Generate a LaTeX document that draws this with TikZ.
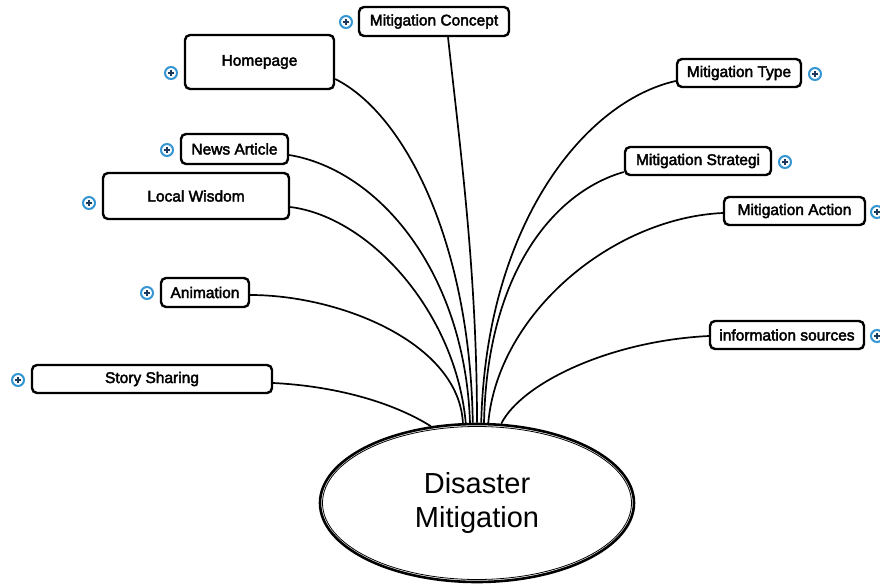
\documentclass[tikz,border=0pt]{standalone}
\usepackage{fontspec}
\setmainfont{Liberation Sans}
\newfontfamily\labelfont[FakeBold=2.6]{Liberation Sans}
\usetikzlibrary{shapes.geometric}
\definecolor{iconblue}{RGB}{52,150,210}
\definecolor{icondark}{RGB}{28,58,92}
\begin{document}
\begin{tikzpicture}[x=1pt,y=-1pt,
  topic/.style={draw=black,line width=2.4pt,rounded corners=5pt,fill=white,
    inner sep=0pt,font=\labelfont\fontsize{15.5}{18}\selectfont},
  link/.style={draw=black,line width=1.7pt},
  plusicon/.style={circle,draw=iconblue,line width=2pt,fill=white,
    minimum size=12pt,inner sep=0pt,
    path picture={
      \draw[icondark,line width=1.2pt]
        ([xshift=-2.6pt]path picture bounding box.center) --
        ([xshift=2.6pt]path picture bounding box.center)
        ([yshift=-2.6pt]path picture bounding box.center) --
        ([yshift=2.6pt]path picture bounding box.center);}}]
\useasboundingbox (0,0) rectangle (880,585);

% central topic
\node[ellipse,draw=black,line width=2.6pt,minimum width=314pt,minimum height=158pt,
  inner sep=0pt,align=center,font=\fontsize{29}{34}\selectfont] (dm) at (477,503)
  {Disaster\\Mitigation};
\draw[line width=0.8pt] (dm.center) ellipse [x radius=154.5pt,y radius=76.5pt];

% subtopics
\node[topic,minimum width=150pt,minimum height=29pt] (concept) at (434,21.5) {Mitigation Concept};
\node[topic,minimum width=149pt,minimum height=54pt] (home) at (259.5,62) {Homepage};
\node[topic,minimum width=107pt,minimum height=30pt] (news) at (234.5,149) {News Article};
\node[topic,minimum width=186pt,minimum height=46pt] (local) at (196,196) {Local Wisdom};
\node[topic,minimum width=88pt,minimum height=29pt] (anim) at (205,292.5) {Animation};
\node[topic,minimum width=240pt,minimum height=28pt] (story) at (152,379) {Story Sharing};
\node[topic,minimum width=124pt,minimum height=28pt] (type) at (739,73) {Mitigation Type};
\node[topic,minimum width=146pt,minimum height=28pt] (strat) at (698,161) {Mitigation Strategi};
\node[topic,minimum width=141pt,minimum height=28pt] (action) at (794.5,211) {Mitigation Action};
\node[topic,minimum width=154pt,minimum height=28pt] (info) at (787,335) {information sources};

% expand markers
\node[plusicon] (i-concept) at (346,22) {};
\node[plusicon] (i-home) at (171,73) {};
\node[plusicon] (i-news) at (167,150) {};
\node[plusicon] (i-local) at (89,203) {};
\node[plusicon] (i-anim) at (147,293) {};
\node[plusicon] (i-story) at (18,380) {};
\node[plusicon] (i-type) at (815,74) {};
\node[plusicon] (i-strat) at (785,162) {};
\node[plusicon] (i-action) at (877,212) {};
\node[plusicon] (i-info) at (877,336) {};

% connectors
\draw[link] ([xshift=14pt]concept.south) .. controls +(12,110) and +(0,-150) .. (dm.90);
\draw[link] ([yshift=-17pt]home.east) .. controls +(70,35) and +(-3,-180) .. (dm.93);
\draw[link] ([yshift=-6pt]news.east) .. controls +(90,15) and +(-5,-150) .. (dm.95);
\draw[link] ([yshift=-11pt]local.east) .. controls +(80,10) and +(-10,-110) .. (dm.98);
\draw[link] ([yshift=-2.5pt]anim.east) .. controls +(90,0) and +(-4,-80) .. (dm.100.8);
\draw[link] ([yshift=-4pt]story.east) .. controls +(60,3) and +(-40,-25) .. (dm.121.9);
\draw[link] ([yshift=-8pt]type.west) .. controls +(-90,20) and +(5,-200) .. (dm.87);
\draw[link] ([yshift=-11pt]strat.west) .. controls +(-70,20) and +(3,-150) .. (dm.85);
\draw[link] ([yshift=-2pt]action.west) .. controls +(-110,5) and +(10,-110) .. (dm.82);
\draw[link] ([yshift=-1pt]info.west) .. controls +(-100,5) and +(20,-40) .. (dm.73.6);
\end{tikzpicture}
\end{document}
